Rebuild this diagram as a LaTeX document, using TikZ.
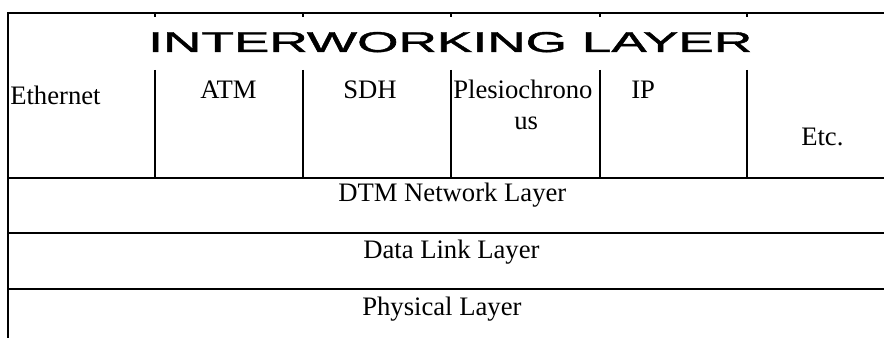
\documentclass[tikz,border=0pt]{standalone}
\usepackage{fontspec}
\setmainfont{Liberation Serif}
\setsansfont{Liberation Sans}
\newfontfamily\titlefont[FakeBold=1.2]{Liberation Sans}
\usepackage{graphicx}
\begin{document}
\begin{tikzpicture}[x=0.75pt,y=-0.75pt,
  rule/.style={line width=1.5pt,line cap=rect},
  lbl/.style={inner sep=0pt,anchor=base west,font=\fontsize{20}{24}\selectfont}]
\useasboundingbox (0,0) rectangle (884,338);
% outer frame
\draw[rule] (8,338) -- (8,13) -- (884,13);
% top ticks
\foreach \x in {155,303,451,600,747} \draw[line width=1.5pt] (\x,13) -- (\x,17);
% column dividers
\foreach \x in {155,303,451,600,747} \draw[line width=1.5pt] (\x,70) -- (\x,178);
% horizontal rules
\foreach \y in {178,233,289} \draw[rule] (8,\y) -- (884,\y);
% title
\node[inner sep=0pt,anchor=base west] (title) at (148,52)
  {\resizebox{453pt}{15pt}{\titlefont INTERWORKING LAYER}};
\node[lbl] (eth) at (10,105) {Ethernet};
\node[lbl] (atm) at (200,99) {ATM};
\node[lbl] (sdh) at (343,99) {SDH};
\node[lbl] (ple) at (453,99) {Plesiochrono};
\node[lbl] (us) at (514,130) {us};
\node[lbl] (ip) at (631,99) {IP};
\node[lbl] (etc) at (801,146) {Etc.};
\node[lbl] (dtm) at (338,202) {DTM Network Layer};
\node[lbl] (dll) at (363,258) {Data Link Layer};
\node[lbl] (phy) at (362,315) {Physical Layer};
\end{tikzpicture}
\end{document}
